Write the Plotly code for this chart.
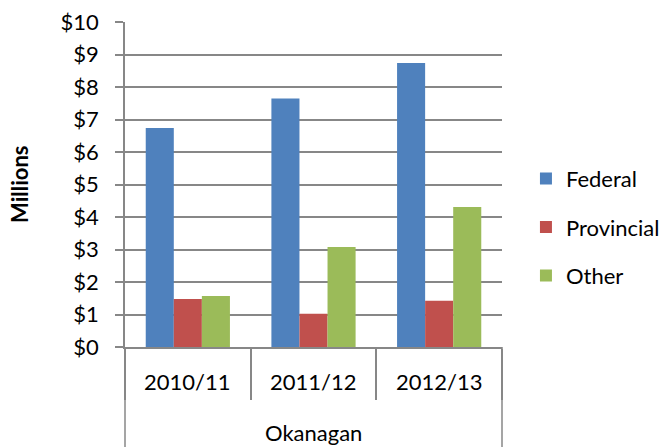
import plotly.graph_objects as go

categories = ["2010/11", "2011/12", "2012/13"]
region = "Okanagan"
federal = [6.74, 7.65, 8.74]
provincial = [1.48, 1.02, 1.42]
other = [1.57, 3.08, 4.31]
series_names = ["Federal", "Provincial", "Other"]
series_colors = ["#4F81BD", "#C0504D", "#9BBB59"]
y_ticks = list(range(0, 11))
y_tick_labels = ["$" + str(v) for v in y_ticks]

FONT = "Lato"
FS = 22
GRID = "#878787"

fig = go.Figure()
for name, vals, col in zip(series_names, [federal, provincial, other], series_colors):
    fig.add_trace(go.Bar(x=categories, y=vals, name=name, marker_color=col,
                         marker_line_width=0, legendgroup=name))

fig.update_layout(
    width=672, height=447,
    margin=dict(l=125, r=0, t=22, b=100),
    paper_bgcolor="white", plot_bgcolor="white",
    font=dict(family=FONT, size=FS, color="black"),
    barmode="group", bargap=0.33, bargroupgap=0,
    showlegend=True,
    legend=dict(x=0.733, xanchor="left", y=0.369, yanchor="middle",
                font=dict(size=FS), tracegroupgap=17, traceorder="grouped",
                itemwidth=30),
)
fig.update_xaxes(type="category", tickson="boundaries", ticks="outside", ticklen=51,
                 tickcolor=GRID, tickwidth=1.5, showticklabels=False,
                 showline=True, linecolor=GRID, linewidth=1.5, showgrid=False,
                 range=[-0.5, 2.5], domain=[0, 377 / 547])
fig.update_yaxes(range=[0, 10], tickvals=y_ticks, ticktext=y_tick_labels,
                 ticks="outside", ticklen=8, tickcolor=GRID, tickwidth=1.5,
                 showline=True, linecolor=GRID, linewidth=1.5,
                 showgrid=True, gridcolor=GRID, gridwidth=1.5, zeroline=False,
                 ticklabelstandoff=12, tickfont=dict(size=FS))

# category labels
for c in categories:
    fig.add_annotation(x=c, xref="x", y=-0.105, yref="paper", text=c,
                       showarrow=False, font=dict(size=FS), yanchor="middle")
fig.add_annotation(x=0.5, xref="x domain", y=-0.262, yref="paper", text=region,
                   showarrow=False, font=dict(size=FS), yanchor="middle")
fig.add_annotation(x=-0.193, xref="paper", y=0.5, yref="paper", text="<b>Millions</b>",
                   textangle=-90, showarrow=False, font=dict(size=FS),
                   xanchor="center", yanchor="middle")
# outer category borders extend to bottom
for xd in [0, 1]:
    fig.add_shape(type="line", xref="x domain", yref="paper", x0=xd, x1=xd,
                  y0=0, y1=-0.31, line=dict(color=GRID, width=1.5))

fig.write_html("out.html", config={"displayModeBar": False},
               post_script="document.body.style.margin='0';")
